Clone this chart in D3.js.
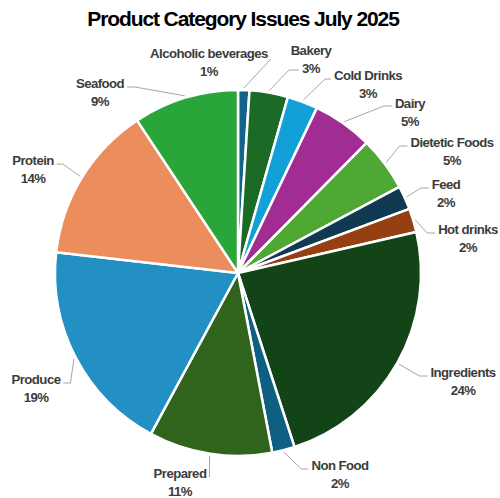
<!DOCTYPE html>
<html>
<head>
<meta charset="utf-8">
<script src="https://cdn.jsdelivr.net/npm/d3@7"></script>
<style>
  html, body { margin: 0; padding: 0; background: #ffffff; }
  svg { display: block; font-family: "Liberation Sans", Arial, sans-serif; }
</style>
</head>
<body>
<svg id="chart" width="500" height="498"></svg>
<script>
// Issue share by product category, clockwise from 12 o'clock
const categories = ["Alcoholic beverages", "Bakery", "Cold Drinks", "Dairy", "Dietetic Foods",
  "Feed", "Hot drinks", "Ingredients", "Non Food", "Prepared", "Produce", "Protein", "Seafood"];
const shares = [1.0, 3.4, 2.7, 5.3, 4.8, 2.1, 2.1, 23.6, 2.0, 10.9, 18.9, 13.9, 9.3];
const colors = ["#13628a", "#1b6b27", "#12a0d8", "#a12d92", "#4ea833", "#0f3a52", "#963f12",
  "#124418", "#0f5f82", "#30641d", "#2290c2", "#ec8d5d", "#29a53a"];

// Label placement: text centre, which side the leader comes from, which line it hooks to, hook length
const labelLayout = [
  { x: 209, y: 53, side: "l", line: "n", hook: 0, dy: 6 },
  { x: 311, y: 50, side: "r", line: "p", hook: 10, dy: 2 },
  { x: 368, y: 75, side: "r", line: "n", hook: 6, dy: 4 },
  { x: 410, y: 103, side: "r", line: "n", hook: 8, dy: 3 },
  { x: 452, y: 142, side: "r", line: "n", hook: 8, dy: 4 },
  { x: 446, y: 184, side: "r", line: "n", hook: 8, dy: 4 },
  { x: 468, y: 229, side: "r", line: "n", hook: 8, dy: 4 },
  { x: 463, y: 372, side: "r", line: "n", hook: 8, dy: 4 },
  { x: 340, y: 465, side: "r", line: "n", hook: 7, dy: 4 },
  { x: 180, y: 473, side: "l", line: "n", hook: 0, dy: 4 },
  { x: 36, y: 379, side: "l", line: "n", hook: 7, dy: 4 },
  { x: 33, y: 160, side: "l", line: "n", hook: 6, dy: 4 },
  { x: 100, y: 83, side: "l", line: "n", hook: 8, dy: 4 }
];

const cx = 238, cy = 273, radius = 183;
const svg = d3.select("#chart");

svg.append("text")
  .attr("x", 243).attr("y", 26)
  .attr("text-anchor", "middle")
  .attr("font-size", 21).attr("font-weight", "bold")
  .attr("letter-spacing", -1.1)
  .attr("fill", "#000000")
  .text("Product Category Issues July 2025");

const data = categories.map((c, i) => ({ name: c, value: shares[i], color: colors[i], layout: labelLayout[i] }));
const total = d3.sum(shares);

const pie = d3.pie().sort(null).value(d => d.value).startAngle(0).endAngle(2 * Math.PI);
const arc = d3.arc().innerRadius(0).outerRadius(radius);
const edge = d3.arc().innerRadius(radius + 2).outerRadius(radius + 2);

const arcs = pie(data);
const g = svg.append("g").attr("transform", `translate(${cx},${cy})`);

g.selectAll("path.slice")
  .data(arcs)
  .join("path")
  .attr("class", "slice")
  .attr("d", arc)
  .attr("fill", d => d.data.color)
  .attr("stroke", "#ffffff")
  .attr("stroke-width", 2.5)
  .attr("stroke-linejoin", "round");

const labels = svg.append("g");
const leaders = svg.insert("g", "g");

arcs.forEach(a => {
  const L = a.data.layout;
  const t = labels.append("text")
    .attr("text-anchor", "middle")
    .attr("font-size", 13.2).attr("font-weight", "bold")
    .attr("letter-spacing", -0.55)
    .attr("fill", "#3c3c3c");
  const nameT = t.append("tspan").attr("x", L.x).attr("y", L.y + 4.7).text(a.data.name);
  const pctT = t.append("tspan").attr("x", L.x).attr("y", L.y + 22.7)
    .text(Math.round(a.data.value / total * 100) + "%");

  const w = (L.line === "n" ? nameT : pctT).node().getComputedTextLength();
  const ly = (L.line === "n" ? L.y : L.y + 18) + L.dy;
  const attachX = L.side === "r" ? L.x - w / 2 - 3 : L.x + w / 2 + 3;
  const elbowX = L.side === "r" ? attachX - L.hook : attachX + L.hook;
  const [sx, sy] = edge.centroid(a);

  leaders.append("polyline")
    .attr("points", [[sx + cx, sy + cy], [elbowX, ly], [attachX, ly]].map(p => p.join(",")).join(" "))
    .attr("fill", "none")
    .attr("stroke", "#a6a6a6")
    .attr("stroke-width", 1);
});
</script>
</body>
</html>
